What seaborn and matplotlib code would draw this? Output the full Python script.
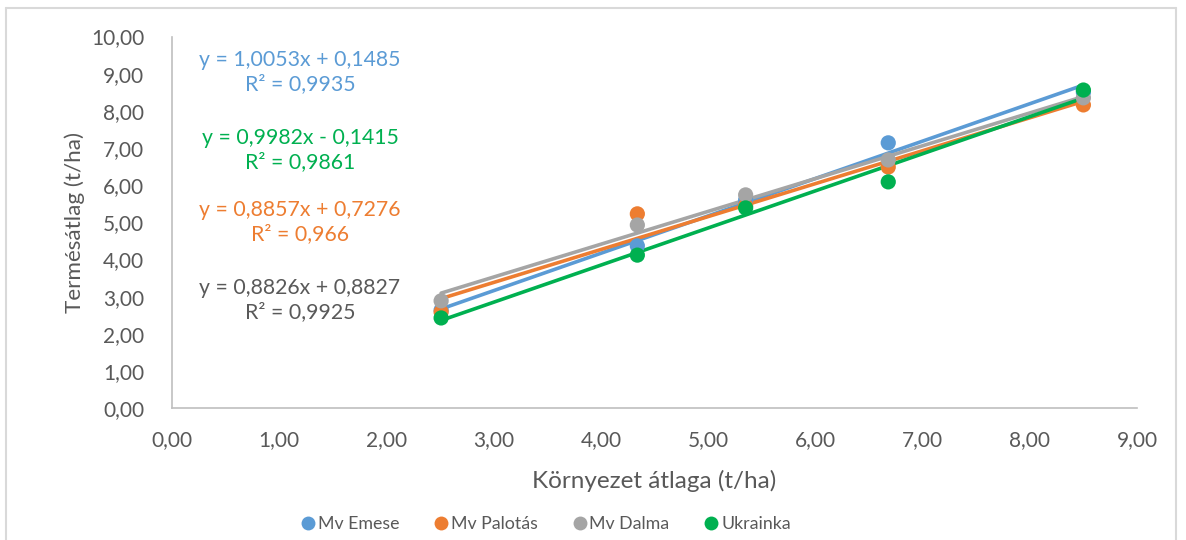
import numpy as np
import pandas as pd
import matplotlib
matplotlib.use("Agg")
import matplotlib.pyplot as plt
import seaborn as sns
from matplotlib.ticker import FuncFormatter, MultipleLocator
from matplotlib.lines import Line2D

# ---- data ----
env_mean = [2.51, 4.34, 5.35, 6.68, 8.50]
series_names = ["Mv Emese", "Mv Palotás", "Mv Dalma", "Ukrainka"]
emese = [2.64, 4.37, 5.60, 7.14, 8.50]
palotas = [2.59, 5.23, 5.45, 6.49, 8.16]
dalma = [2.89, 4.93, 5.74, 6.68, 8.35]
ukrainka = [2.43, 4.12, 5.39, 6.09, 8.56]
slopes = [1.0053, 0.8857, 0.8826, 0.9982]
intercepts = [0.1485, 0.7276, 0.8827, -0.1415]
eq_labels = ["y = 1,0053x + 0,1485\nR² = 0,9935",
             "y = 0,8857x + 0,7276\nR² = 0,966",
             "y = 0,8826x + 0,8827\nR² = 0,9925",
             "y = 0,9982x - 0,1415\nR² = 0,9861"]
x_label = "Környezet átlaga (t/ha)"
y_label = "Termésátlag (t/ha)"

colors = ["#5B9BD5", "#ED7D31", "#A5A5A5", "#00B050"]
text_colors = ["#5B9BD5", "#ED7D31", "#595959", "#00B050"]

sns.set_theme(style="white")
plt.rcParams["font.family"] = ["Lato", "DejaVu Sans"]

df = pd.DataFrame({
    "x": env_mean * 4,
    "y": emese + palotas + dalma + ukrainka,
    "series": [n for n in series_names for _ in env_mean],
})

fig = plt.figure(figsize=(11.86, 5.40), dpi=100)
ax = fig.add_axes([172 / 1186, 1 - 408.3 / 540, (1137 - 172) / 1186, (408.3 - 36.5) / 540])

# trend lines
xs = np.array([min(env_mean), max(env_mean)])
for m, b, c in zip(slopes, intercepts, colors):
    sns.lineplot(x=xs, y=m * xs + b, color=c, lw=2.6, ax=ax, zorder=2,
                 solid_capstyle="round")

sns.scatterplot(data=df, x="x", y="y", hue="series", palette=colors,
                s=120, edgecolor="none", ax=ax, zorder=3, legend=False)

ax.set_xlim(0, 9)
ax.set_ylim(0, 10)
ax.xaxis.set_major_locator(MultipleLocator(1))
ax.yaxis.set_major_locator(MultipleLocator(1))
fmt = FuncFormatter(lambda v, p: f"{v:.2f}".replace(".", ","))
ax.xaxis.set_major_formatter(fmt)
ax.yaxis.set_major_formatter(fmt)
ax.tick_params(length=0, labelsize=15, colors="#595959")
ax.tick_params(axis="x", pad=16)
ax.tick_params(axis="y", pad=20)
for s in ["top", "right"]:
    ax.spines[s].set_visible(False)
for s in ["left", "bottom"]:
    ax.spines[s].set_color("#BFBFBF")
    ax.spines[s].set_linewidth(1.2)
ax.grid(False)
ax.set_xlabel(x_label, fontsize=17.5, color="#595959", labelpad=14)
ax.set_ylabel(y_label, fontsize=16.2, color="#595959", labelpad=4)

# equation labels (figure pixel positions)
label_pos = [(300, 72), (300, 222), (300, 300), (300, 150)]
for (px, py), txt, c in zip(label_pos, eq_labels, text_colors):
    fig.text(px / 1186, 1 - py / 540, txt, color=c, fontsize=15.3,
             ha="center", va="center", linespacing=1.3)

# legend
handles = [Line2D([0], [0], marker="o", color="none", markerfacecolor=c,
                  markeredgecolor="none", markersize=10) for c in colors]
fig.legend(handles, series_names, loc="center", bbox_to_anchor=(545 / 1186, 1 - 524 / 540),
           ncol=4, frameon=False, fontsize=12.8, handletextpad=0.05,
           columnspacing=1.85, labelcolor="#595959", handlelength=1.0)

# chart border
bc = "#D9D9D9"
fig.add_artist(Line2D([6 / 1186, 6 / 1186], [0, 1 - 8 / 540], color=bc, lw=1.5))
fig.add_artist(Line2D([6 / 1186, 1176 / 1186], [1 - 8 / 540, 1 - 8 / 540], color=bc, lw=1.5))
fig.add_artist(Line2D([1176 / 1186, 1176 / 1186], [0, 1 - 8 / 540], color=bc, lw=1.5))

fig.savefig("out.png", dpi=100)
